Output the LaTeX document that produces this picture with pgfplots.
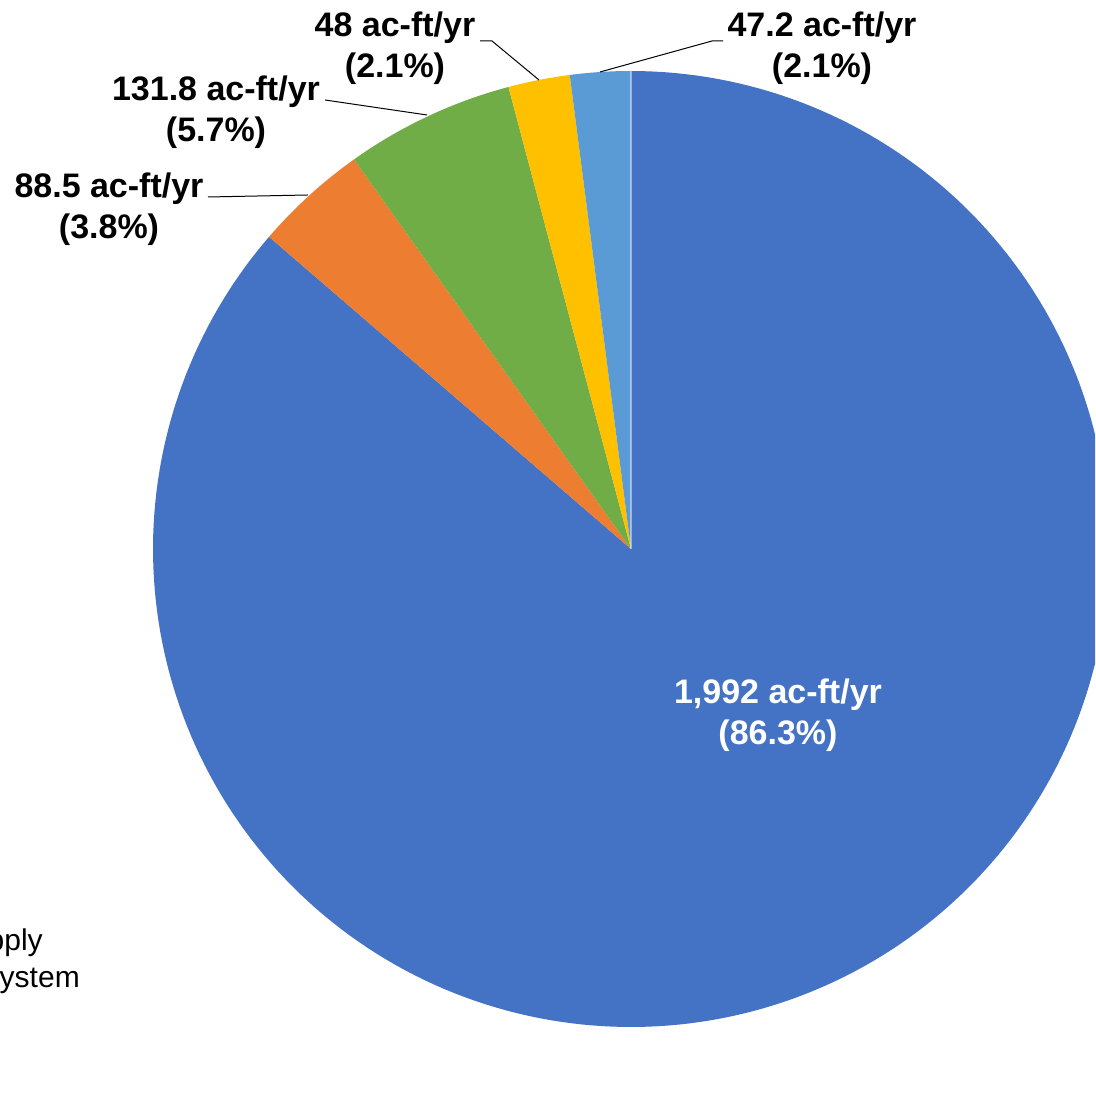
\documentclass[border=0pt]{standalone}
\usepackage{pgfplots}
\pgfplotsset{compat=1.18}
\usepackage{pgfplotstable}
\usepackage{fontspec}
\setmainfont{Liberation Sans}

\definecolor{sBlue}{HTML}{4472C4}
\definecolor{sOrange}{HTML}{ED7D31}
\definecolor{sGreen}{HTML}{70AD47}
\definecolor{sYellow}{HTML}{FFC000}
\definecolor{sLight}{HTML}{5B9BD5}

% annual volumes, ac-ft/yr, in drawing order (clockwise from 12 o'clock)
\pgfplotstableread{
slice value
1 1992
2 88.5
3 131.8
4 48
5 47.2
}\slices

\newcommand{\getval}[2]{\pgfplotstablegetelem{#1}{value}\of\slices\let#2\pgfplotsretval}

\begin{document}
\begin{tikzpicture}
\getval{0}{\vA}\getval{1}{\vB}\getval{2}{\vC}\getval{3}{\vD}\getval{4}{\vE}
\pgfmathsetmacro{\tot}{\vA+\vB+\vC+\vD+\vE}
\pgfmathsetmacro{\aA}{90-360*(\vA/\tot)}
\pgfmathsetmacro{\aB}{\aA-360*(\vB/\tot)}
\pgfmathsetmacro{\aC}{\aB-360*(\vC/\tot)}
\pgfmathsetmacro{\aD}{\aC-360*(\vD/\tot)}
\pgfmathsetmacro{\aE}{\aD-360*(\vE/\tot)}
\def\R{478}
\begin{axis}[
  x=1pt, y=1pt,
  xmin=-631, xmax=464, ymin=-556, ymax=549,
  enlargelimits=false,
  hide axis,
  clip=true,
]
% wedges
\addplot[fill=sBlue, draw=none, domain=\aA:90, samples=240]
  ({\R*cos(x)},{\R*sin(x)}) -- (axis cs:0,0) -- cycle;
\addplot[fill=sOrange, draw=none, domain=\aB:\aA, samples=30]
  ({\R*cos(x)},{\R*sin(x)}) -- (axis cs:0,0) -- cycle;
\addplot[fill=sGreen, draw=none, domain=\aC:\aB, samples=30]
  ({\R*cos(x)},{\R*sin(x)}) -- (axis cs:0,0) -- cycle;
\addplot[fill=sYellow, draw=none, domain=\aD:\aC, samples=20]
  ({\R*cos(x)},{\R*sin(x)}) -- (axis cs:0,0) -- cycle;
\addplot[fill=sLight, draw=none, domain=\aE:\aD, samples=20]
  ({\R*cos(x)},{\R*sin(x)}) -- (axis cs:0,0) -- cycle;
% seam at the start angle
\addplot[white, opacity=0.45, line width=1.2pt] coordinates {(0,0) (0,478)};

% leader lines
\addplot[black, line width=1pt] coordinates {(-423,352) (-323,354)};
\addplot[black, line width=1pt] coordinates {(-306,449) (-204,434)};
\addplot[black, line width=1pt] coordinates {(-151,508) (-139,508) (-92,469)};
\addplot[black, line width=1pt] coordinates {(92,508) (81,508) (-31,477)};

% data labels
\begin{scope}[every node/.style={align=center, font=\fontsize{34}{41}\selectfont\bfseries, inner sep=0pt}]
\node[text=white] at (axis cs:147,-166) {1,992 ac-ft/yr\\(86.3\%)};
\node at (axis cs:-522,339.5) {88.5 ac-ft/yr\\(3.8\%)};
\node at (axis cs:-415,437) {131.8 ac-ft/yr\\(5.7\%)};
\node at (axis cs:-236,501) {48 ac-ft/yr\\(2.1\%)};
\node at (axis cs:191,501) {47.2 ac-ft/yr\\(2.1\%)};
\end{scope}

% legend text running off the left edge
\node[anchor=base east, inner sep=0pt, font=\fontsize{30}{36}\selectfont] at (axis cs:-588,-402) {Public Water Supply};
\node[anchor=base east, inner sep=0pt, font=\fontsize{30}{36}\selectfont] at (axis cs:-551,-439) {Distribution System};
\end{axis}
\pgfresetboundingbox
\useasboundingbox (current axis.south west) rectangle (current axis.north east);
\end{tikzpicture}
\end{document}
